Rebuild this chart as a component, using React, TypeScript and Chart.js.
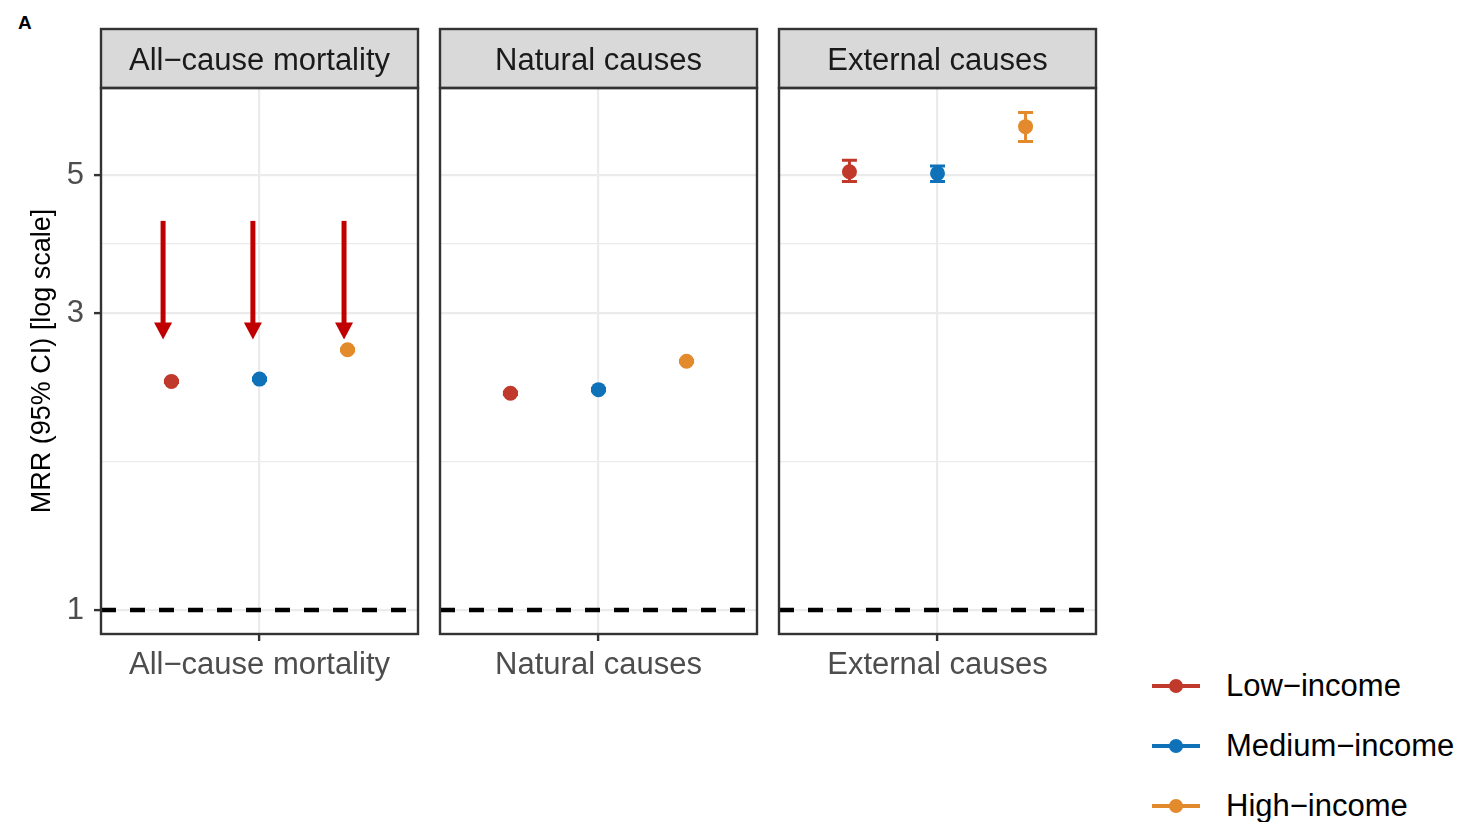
import React, { useEffect, useRef } from 'react';
import { Chart, registerables } from 'chart.js';

Chart.register(...registerables);

const FONT = "'Liberation Sans', Arial, sans-serif";

const categories = ['All\u2212cause mortality', 'Natural causes', 'External causes'];
const groups = ['Low\u2212income', 'Medium\u2212income', 'High\u2212income'];
const groupColors = ['#C0392B', '#0F72B8', '#E38A2C'];

const lowEst = [2.33, 2.23, 5.06];
const lowLo = [2.32, 2.22, 4.88];
const lowHi = [2.34, 2.24, 5.28];
const medEst = [2.35, 2.26, 5.03];
const medLo = [2.34, 2.25, 4.88];
const medHi = [2.36, 2.27, 5.17];
const highEst = [2.62, 2.51, 5.98];
const highLo = [2.61, 2.50, 5.66];
const highHi = [2.63, 2.52, 6.30];

const yTicks = [1, 3, 5];
const yMinor = [Math.sqrt(1 * 3), Math.sqrt(3 * 5)];
const yRange = [0.915, 6.9];
const xRange = [0.4, 1.6];
const refLine = 1;
const dodge = [-1 / 3, 0, 1 / 3];

const arrowX = [0.635, 0.975, 1.32];
const arrowFrom = 4.22;
const arrowTo = 2.72;

const ests = [lowEst, medEst, highEst];
const los = [lowLo, medLo, highLo];
const his = [lowHi, medHi, highHi];

const PANEL_LEFT = [101, 440, 779];
const Y_AXIS_W = 101;
const CANVAS_W = 430;
const CANVAS_H = 710;

function makeChart(canvas: HTMLCanvasElement, p: number) {
  const showY = p === 0;
  const datasets: any[] = groups.map((g, gi) => ({
    label: g,
    data: [{ x: 1 + dodge[gi], y: ests[gi][p] }],
    backgroundColor: groupColors[gi],
    borderColor: groupColors[gi],
    pointRadius: 7.5,
    pointBorderWidth: 0,
    showLine: false,
  }));
  datasets.push({
    label: 'ref',
    data: [{ x: xRange[0], y: refLine }, { x: xRange[1], y: refLine }],
    showLine: true,
    borderColor: '#000',
    borderWidth: 4.5,
    borderDash: [15, 14],
    pointRadius: 0,
  });

  const errorBars = {
    id: 'errorBars',
    beforeDatasetsDraw(chart: any) {
      const { ctx, scales } = chart;
      ctx.save();
      ctx.lineWidth = 3;
      groups.forEach((_, gi) => {
        const x = scales.x.getPixelForValue(1 + dodge[gi]);
        const y1 = scales.y.getPixelForValue(los[gi][p]);
        const y2 = scales.y.getPixelForValue(his[gi][p]);
        ctx.strokeStyle = groupColors[gi];
        ctx.beginPath();
        ctx.moveTo(x, y1); ctx.lineTo(x, y2);
        ctx.moveTo(x - 7.5, y1); ctx.lineTo(x + 7.5, y1);
        ctx.moveTo(x - 7.5, y2); ctx.lineTo(x + 7.5, y2);
        ctx.stroke();
      });
      ctx.restore();
    },
  };

  const arrows = {
    id: 'arrows',
    afterDatasetsDraw(chart: any) {
      if (p !== 0) return;
      const { ctx, scales } = chart;
      ctx.save();
      ctx.fillStyle = '#C00000';
      ctx.strokeStyle = '#C00000';
      arrowX.forEach((ax) => {
        const x = scales.x.getPixelForValue(ax);
        const yA = scales.y.getPixelForValue(arrowFrom);
        const yB = scales.y.getPixelForValue(arrowTo);
        const head = 17;
        ctx.lineWidth = 5;
        ctx.beginPath();
        ctx.moveTo(x, yA);
        ctx.lineTo(x, yB - head + 2);
        ctx.stroke();
        ctx.beginPath();
        ctx.moveTo(x - 9, yB - head);
        ctx.lineTo(x + 9, yB - head);
        ctx.lineTo(x, yB);
        ctx.closePath();
        ctx.fill();
      });
      ctx.restore();
    },
  };

  const frame = {
    id: 'frame',
    afterDraw(chart: any) {
      const { ctx, chartArea } = chart;
      const { left, right, top, bottom } = chartArea;
      const stripTop = 29;
      ctx.save();
      ctx.fillStyle = '#D9D9D9';
      ctx.fillRect(left, stripTop, right - left, top - stripTop);
      ctx.strokeStyle = '#333333';
      ctx.lineWidth = 2.4;
      ctx.strokeRect(left, stripTop, right - left, top - stripTop);
      ctx.strokeRect(left, top, right - left, bottom - top);
      ctx.fillStyle = '#1A1A1A';
      ctx.font = `31px ${FONT}`;
      ctx.textAlign = 'center';
      ctx.textBaseline = 'alphabetic';
      ctx.fillText(categories[p], (left + right) / 2, 70);
      ctx.restore();
    },
  };

  return new Chart(canvas, {
    type: 'scatter',
    data: { datasets },
    plugins: [errorBars, arrows, frame],
    options: {
      animation: false,
      responsive: false,
      events: [],
      layout: { padding: { top: 88, right: CANVAS_W - Y_AXIS_W - 317, left: 0, bottom: 0 } },
      plugins: { legend: { display: false }, tooltip: { enabled: false } },
      scales: {
        x: {
          type: 'linear',
          min: xRange[0],
          max: xRange[1],
          afterBuildTicks: (s: any) => { s.ticks = [{ value: 1 }]; },
          afterFit: (s: any) => { s.height = CANVAS_H - 634; },
          ticks: {
            callback: () => categories[p],
            font: { family: FONT, size: 31 },
            color: '#4D4D4D',
            padding: 6,
            maxRotation: 0,
            minRotation: 0,
            autoSkip: false,
          },
          grid: { color: '#EBEBEB', lineWidth: 2.2, tickLength: 7, tickColor: '#333333', tickWidth: 2.4 },
          border: { display: false },
        },
        y: {
          type: 'logarithmic',
          min: yRange[0],
          max: yRange[1],
          afterBuildTicks: (s: any) => {
            s.ticks = [...yTicks, ...yMinor].sort((a, b) => a - b).map((v) => ({ value: v }));
          },
          afterFit: (s: any) => { s.width = Y_AXIS_W; },
          ticks: {
            display: showY,
            autoSkip: false,
            callback: (v: any) => (yTicks.includes(v) ? String(v) : ''),
            font: { family: FONT, size: 31 },
            color: '#4D4D4D',
            padding: 10,
          },
          grid: {
            color: '#EBEBEB',
            lineWidth: (ctx: any) => (ctx.tick && yTicks.includes(ctx.tick.value) ? 2.2 : 1.2),
            drawTicks: showY,
            tickLength: 7,
            tickWidth: 2.4,
            tickColor: (ctx: any) => (ctx.tick && yTicks.includes(ctx.tick.value) ? '#333333' : 'rgba(0,0,0,0)'),
          },
          border: { display: false },
          title: {
            display: showY,
            text: 'MRR (95% CI) [log scale]',
            font: { family: FONT, size: 27 },
            color: '#000000',
            padding: { top: 26, bottom: 0 },
          },
        },
      },
    } as any,
  });
}

function Panel({ p }: { p: number }) {
  const ref = useRef<HTMLCanvasElement>(null);
  useEffect(() => {
    const chart = makeChart(ref.current as HTMLCanvasElement, p);
    return () => chart.destroy();
  }, [p]);
  return (
    <canvas
      ref={ref}
      width={CANVAS_W}
      height={CANVAS_H}
      style={{ position: 'absolute', left: PANEL_LEFT[p] - Y_AXIS_W, top: 0, width: CANVAS_W, height: CANVAS_H }}
    />
  );
}

export default function App() {
  const legendY = [686, 746, 806];
  return (
    <div style={{ position: 'absolute', left: 0, top: 0, width: 1462, height: 822, background: '#fff', overflow: 'hidden', fontFamily: FONT }}>
      <div style={{ position: 'absolute', left: 18, top: 12, fontSize: 19, lineHeight: '22px', fontWeight: 'bold', color: '#000' }}>A</div>
      {categories.map((_, p) => (
        <Panel key={p} p={p} />
      ))}
      {groups.map((g, gi) => (
        <React.Fragment key={g}>
          <div style={{ position: 'absolute', left: 1152, top: legendY[gi] - 2, width: 48, height: 4, background: groupColors[gi] }} />
          <div style={{ position: 'absolute', left: 1169, top: legendY[gi] - 7, width: 14, height: 14, borderRadius: 7, background: groupColors[gi] }} />
          <div style={{ position: 'absolute', left: 1226, top: legendY[gi] - 20, height: 40, lineHeight: '40px', fontSize: 31, color: '#000', whiteSpace: 'nowrap' }}>{g}</div>
        </React.Fragment>
      ))}
    </div>
  );
}
